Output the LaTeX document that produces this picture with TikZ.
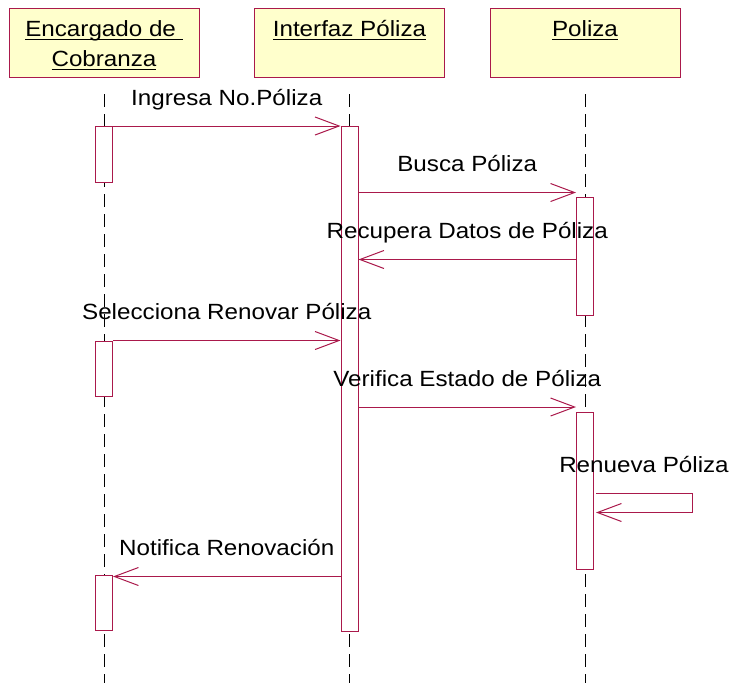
\documentclass[tikz,border=0pt]{standalone}
\usepackage{fontspec}
\setmainfont[FakeStretch=1.1]{Liberation Sans}
\usetikzlibrary{arrows.meta}
\definecolor{rose}{RGB}{170,25,75}
\definecolor{paleyellow}{RGB}{255,255,204}
\newcommand\uln[1]{\setbox0\hbox{#1}\rlap{\rule[-3.5pt]{\wd0}{1.3pt}}\box0}
\begin{document}
\begin{tikzpicture}[x=1pt,y=-1pt,
  every node/.style={font=\fontsize{22}{30}\selectfont},
  objbox/.style={draw=rose,fill=paleyellow,line width=1pt,minimum width=190pt,minimum height=69pt,inner sep=0pt},
  objname/.style={anchor=north,align=center,inner sep=0pt},
  lifeline/.style={dash pattern=on 13pt off 7pt,line width=0.9pt},
  actbox/.style={draw=rose,fill=white,line width=1pt,minimum width=17pt,inner sep=0pt,anchor=north},
  msg/.style={draw=rose,line width=1pt,-{Straight Barb[length=24pt,width=18pt]}},
  msglabel/.style={anchor=base,yshift=21pt,inner sep=0pt}]
\useasboundingbox (0,0) rectangle (731,683);
\node[objbox] (enc) at (104,43) {};
\node[objbox] (inter) at (349.5,43) {};
\node[objbox] (pol) at (585,43) {};
\node[objname] (encname) at (104,20.5) {\uln{Encargado de\ }\\\uln{Cobranza}};
\node[objname] (intername) at (349.5,20.5) {\uln{Interfaz Póliza}};
\node[objname] (polname) at (585,20.5) {\uln{Poliza}};
\coordinate (bottom) at (0,683);
\draw[lifeline] ([yshift=-16pt]enc.south) -- (enc.south |- bottom);
\draw[lifeline] ([yshift=-16pt]inter.south) -- (inter.south |- bottom);
\draw[lifeline] ([yshift=-16pt]pol.south) -- (pol.south |- bottom);
\node[actbox,minimum height=56pt] (a1) at (104,126) {};
\node[actbox,minimum height=505pt] (a2) at (349.5,126) {};
\node[actbox,minimum height=118pt] (a3) at (585,197) {};
\node[actbox,minimum height=55pt] (a4) at (104,340.5) {};
\node[actbox,minimum height=157pt] (a5) at (585,412) {};
\node[actbox,minimum height=55pt] (a6) at (104,575) {};
\coordinate (m1) at (0,126);
\coordinate (m2) at (0,192.5);
\coordinate (m3) at (0,259.5);
\coordinate (m4) at (0,340.5);
\coordinate (m5) at (0,407);
\coordinate (m6) at (692,493.5);
\coordinate (m6b) at (0,512.5);
\coordinate (m7) at (0,576.5);
\draw[msg] (a1.east |- m1) -- node[msglabel] (l1) {Ingresa No.Póliza} (a2.west |- m1);
\draw[msg] (a2.east |- m2) -- node[msglabel] (l2) {Busca Póliza} (a3.west |- m2);
\draw[msg] (a3.west |- m3) -- node[msglabel] (l3) {Recupera Datos de Póliza} (a2.east |- m3);
\draw[msg] (a4.east |- m4) -- node[msglabel] (l4) {Selecciona Renovar Póliza} (a2.west |- m4);
\draw[msg] (a2.east |- m5) -- node[msglabel] (l5) {Verifica Estado de Póliza} (a5.west |- m5);
\draw[msg] ([xshift=2pt]a5.east |- m6) -- node[msglabel] (l6) {Renueva Póliza} (m6) -- (m6 |- m6b) -- ([xshift=2pt]a5.east |- m6b);
\draw[msg] (a2.west |- m7) -- node[msglabel] (l7) {Notifica Renovación} (a6.east |- m7);
\end{tikzpicture}
\end{document}
